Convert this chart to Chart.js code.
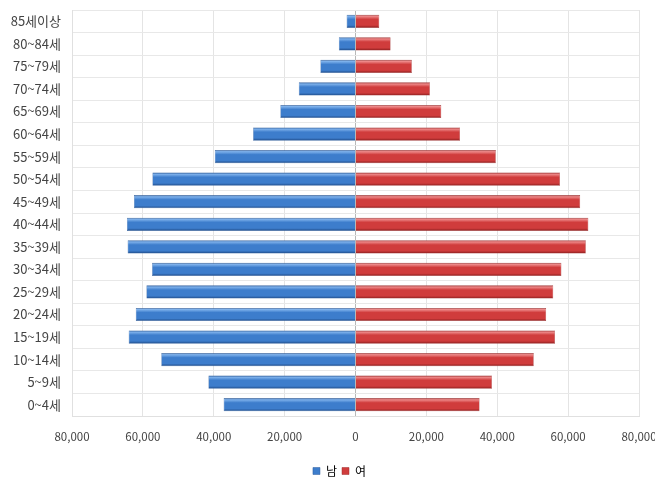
<!DOCTYPE html>
<html lang="ko">
<head>
  <meta charset="UTF-8" />
  <title>인구 피라미드</title>
  <script src="https://cdn.jsdelivr.net/npm/chart.js"></script>
  <style>
    html, body { margin: 0; padding: 0; background: #fff; }
    .chart-box { width: 655px; height: 479px; position: relative; }
  </style>
</head>
<body>
  <div class="chart-box">
    <canvas id="pyramid"></canvas>
  </div>

  <script>
    // age groups, top to bottom
    const ageGroups = ['85세이상', '80~84세', '75~79세', '70~74세', '65~69세', '60~64세',
      '55~59세', '50~54세', '45~49세', '40~44세', '35~39세', '30~34세', '25~29세',
      '20~24세', '15~19세', '10~14세', '5~9세', '0~4세'];
    const male = [2500, 4700, 9900, 16000, 21200, 28900, 39700, 57300, 62500, 64500,
      64300, 57400, 59000, 62000, 64000, 54800, 41500, 37200];
    const female = [6700, 9900, 15900, 21000, 24200, 29500, 39600, 57700, 63400, 65700,
      65000, 58100, 55800, 53800, 56300, 50300, 38500, 35000];
    const xTicks = [-80000, -60000, -40000, -20000, 0, 20000, 40000, 60000, 80000];

    const FONT = "'Noto Sans CJK KR', 'Noto Sans', sans-serif";
    const CAT_PCT = 0.65, BAR_PCT = 0.9;

    // cylinder-like vertical shading per bar
    function shade(light, mid, dark) {
      return function (c) {
        const chart = c.chart, y = chart.scales.y;
        if (!y || !chart.chartArea) return mid;
        const cy = y.getPixelForValue(c.dataIndex);
        const h = (y.height / ageGroups.length) * CAT_PCT * BAR_PCT;
        const g = chart.ctx.createLinearGradient(0, cy - h / 2, 0, cy + h / 2);
        g.addColorStop(0, dark);
        g.addColorStop(0.12, light);
        g.addColorStop(0.35, mid);
        g.addColorStop(0.8, mid);
        g.addColorStop(1, dark);
        return g;
      };
    }

    // legend in the original sits a little right of centre
    const nudgeLegend = {
      id: 'nudgeLegend',
      afterLayout(chart) {
        chart.legend.left += 20;
        chart.legend.right += 20;
      }
    };

    new Chart(document.getElementById('pyramid'), {
      type: 'bar',
      data: {
        labels: ageGroups,
        datasets: [
          {
            label: '남',
            data: male.map(v => -v),
            backgroundColor: shade('#7fb2ec', '#3d7dcc', '#1f4a86'),
            borderColor: '#2a5b9c',
            borderWidth: 0.5,
            categoryPercentage: CAT_PCT,
            barPercentage: BAR_PCT
          },
          {
            label: '여',
            data: female,
            backgroundColor: shade('#ee8a8a', '#d03c3c', '#8a1e1e'),
            borderColor: '#9c2a2a',
            borderWidth: 0.5,
            categoryPercentage: CAT_PCT,
            barPercentage: BAR_PCT
          }
        ]
      },
      plugins: [nudgeLegend],
      options: {
        indexAxis: 'y',
        responsive: true,
        maintainAspectRatio: false,
        animation: false,
        layout: { padding: { top: 10, right: 16, left: 0, bottom: -8 } },
        plugins: {
          legend: {
            position: 'bottom',
            labels: {
              color: '#444',
              font: { family: FONT, size: 12 },
              boxWidth: 7,
              boxHeight: 7,
              padding: 5,
              generateLabels: chart => chart.data.datasets.map((d, i) => ({
                text: d.label,
                fillStyle: i === 0 ? '#3d7dcc' : '#d03c3c',
                strokeStyle: i === 0 ? '#2a5b9c' : '#9c2a2a',
                lineWidth: 0.5,
                datasetIndex: i
              }))
            }
          },
          tooltip: {
            callbacks: { label: c => c.dataset.label + ': ' + Math.abs(c.raw).toLocaleString('en-US') }
          }
        },
        scales: {
          x: {
            stacked: true,
            min: xTicks[0],
            max: xTicks[xTicks.length - 1],
            afterBuildTicks: s => { s.ticks = xTicks.map(v => ({ value: v })); },
            afterFit: s => { s.paddingLeft = 0; s.paddingRight = 0; s.height = 44; },
            grid: {
              color: c => c.tick && c.tick.value === 0 ? '#b8b8b8' : '#e4e4e4',
              drawTicks: false
            },
            border: { color: '#e0e0e0' },
            ticks: {
              color: '#444',
              padding: 14,
              font: { family: FONT, size: 11.5 },
              callback: v => Math.abs(v).toLocaleString('en-US')
            }
          },
          y: {
            stacked: true,
            afterFit: s => { s.width = 72; s.paddingTop = 0; s.paddingBottom = 0; },
            grid: { color: '#e8e8e8', drawTicks: false },
            border: { color: '#e0e0e0' },
            ticks: {
              color: '#444',
              padding: 11,
              font: { family: FONT, size: 13 }
            }
          }
        }
      }
    });
  </script>
</body>
</html>
